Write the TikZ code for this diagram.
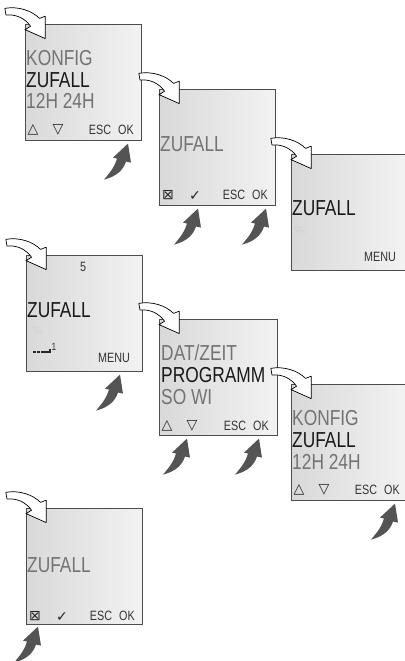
\documentclass[tikz,border=0pt]{standalone}
\usepackage{fontspec}
\setmainfont{Liberation Sans}
\newfontfamily\lcdfont[FakeStretch=0.8]{Liberation Sans}
\newfontfamily\symfont{DejaVu Sans}
\usetikzlibrary{calc, positioning}

\begin{document}
\begin{tikzpicture}[
    x=0.03cm, y=-0.03cm,
    screen/.style={
        draw=black!70,
        line width=0.5pt,
        left color=black!15,
        right color=black!5,
        minimum width=3.48cm,
        minimum height=3.48cm,
        anchor=north west,
        inner sep=0pt
    },
    big/.style={
        font=\lcdfont\fontsize{18.5}{19}\selectfont,
        inner sep=0pt,
        text depth=0pt,
        anchor=west
    },
    dim/.style={big, text=black!55},
    sel/.style={big, text=black!90},
    key/.style={
        font=\lcdfont\fontsize{11.5}{12}\selectfont,
        inner sep=0pt,
        text depth=0pt,
        text=black!80
    },
    sym/.style={
        font=\symfont\fontsize{12}{13}\selectfont,
        inner sep=0pt,
        text=black!85
    },
    enterarrow/.pic={
        \draw[fill=white, line width=0.6pt, line join=round, scale=1.12]
            (-18,-14) .. controls (-6,-16) and (6,-12) .. (13,-5)
            -- (18,-7) -- (18,13) -- (0,5) -- (5,2)
            .. controls (0,-5) and (-8,-9) .. (-17,-8) -- cycle;
    },
    pressarrow/.pic={
        \fill[black!67]
            (0,0) -- (3,19) -- (-2,18)
            .. controls (-5,27) and (-12,33) .. (-24,36)
            .. controls (-17,28) and (-13,22) .. (-11,15)
            -- (-15,14) -- cycle;
    }
]
\useasboundingbox (0,0) rectangle (405,661);

% screen 1
\node[screen] (s1) at (25,24) {};
\node[dim] (s1a) at ([shift={(1,34)}]s1.north west) {KONFIG};
\node[sel] (s1b) at ([shift={(1,56)}]s1.north west) {ZUFALL};
\node[dim] (s1c) at ([shift={(1,77)}]s1.north west) {12H 24H};
\node[sym] (s1up) at ([shift={(8,106)}]s1.north west) {△};
\node[sym] (s1dn) at ([shift={(33,106)}]s1.north west) {▽};
\node[key] (s1esc) at ([shift={(75,106)}]s1.north west) {ESC};
\node[key] (s1ok) at ([shift={(101,106)}]s1.north west) {OK};

% screen 2
\node[screen] (s2) at (159,89) {};
\node[dim] (s2a) at ([shift={(1,55)}]s2.north west) {ZUFALL};
\node[sym] (s2box) at ([shift={(9,106)}]s2.north west) {⊠};
\node[sym] (s2chk) at ([shift={(36,107)}]s2.north west) {✓};
\node[key] (s2esc) at ([shift={(75,106)}]s2.north west) {ESC};
\node[key] (s2ok) at ([shift={(101,106)}]s2.north west) {OK};

% screen 3
\node[screen, minimum width=3.42cm] (s3) at (291,154) {};
\node[sel] (s3a) at ([shift={(1,54)}]s3.north west) {ZUFALL};
\node[key] (s3menu) at ([shift={(89,103)}]s3.north west) {MENU};
\foreach \d in {0,3,6}
    \draw[black!30, densely dotted, line width=0.4pt]
        ([shift={(3+\d,72)}]s3.north west) -- ++(5,8);

% screen 4
\node[screen] (s4) at (26,255) {};
\node[key] (s4num) at ([shift={(57,12)}]s4.north west) {5};
\node[sel] (s4a) at ([shift={(1,55)}]s4.north west) {ZUFALL};
\node[key] (s4menu) at ([shift={(88,103)}]s4.north west) {MENU};
\foreach \d in {0,3,6}
    \draw[black!30, densely dotted, line width=0.4pt]
        ([shift={(6+\d,71)}]s4.north west) -- ++(5,8);
\draw[black!85, line width=1.1pt] ([shift={(7,97)}]s4.north west) -- ++(2.5,0);
\draw[black!85, line width=1.1pt] ([shift={(11,97)}]s4.north west) -- ++(2.5,0);
\draw[black!85, line width=1.1pt] ([shift={(15,97)}]s4.north west) -- ++(9,0) -- ++(0,-3.5);
\node[key, font=\lcdfont\fontsize{9}{10}\selectfont] (s4one) at ([shift={(28,92)}]s4.north west) {1};

% screen 5
\node[screen, minimum width=3.54cm] (s5) at (159,319) {};
\node[dim] (s5a) at ([shift={(2,34)}]s5.north west) {DAT/ZEIT};
\node[sel] (s5b) at ([shift={(2,56)}]s5.north west) {PROGRAMM};
\node[dim] (s5c) at ([shift={(2,78)}]s5.north west) {SO WI};
\node[sym] (s5up) at ([shift={(8,107)}]s5.north west) {△};
\node[sym] (s5dn) at ([shift={(33,107)}]s5.north west) {▽};
\node[key] (s5esc) at ([shift={(76,107)}]s5.north west) {ESC};
\node[key] (s5ok) at ([shift={(102,107)}]s5.north west) {OK};

% screen 6
\node[screen, minimum width=3.42cm] (s6) at (291,384) {};
\node[dim] (s6a) at ([shift={(1,34)}]s6.north west) {KONFIG};
\node[sel] (s6b) at ([shift={(1,56)}]s6.north west) {ZUFALL};
\node[dim] (s6c) at ([shift={(1,78)}]s6.north west) {12H 24H};
\node[sym] (s6up) at ([shift={(8,106)}]s6.north west) {△};
\node[sym] (s6dn) at ([shift={(33,106)}]s6.north west) {▽};
\node[key] (s6esc) at ([shift={(75,106)}]s6.north west) {ESC};
\node[key] (s6ok) at ([shift={(101,106)}]s6.north west) {OK};

% screen 7
\node[screen] (s7) at (26,508) {};
\node[dim] (s7a) at ([shift={(1,57)}]s7.north west) {ZUFALL};
\node[sym] (s7box) at ([shift={(9,108)}]s7.north west) {⊠};
\node[sym] (s7chk) at ([shift={(36,109)}]s7.north west) {✓};
\node[key] (s7esc) at ([shift={(75,108)}]s7.north west) {ESC};
\node[key] (s7ok) at ([shift={(101,108)}]s7.north west) {OK};

% white arrows into each screen
\foreach \s in {s1,s2,s3,s4,s5,s6,s7}
    \pic at (\s.north west) {enterarrow};

% key presses
\pic at ($(s1ok |- s1.south)+(2,3)$) {pressarrow};
\pic at ($(s2chk |- s2.south)+(3,3)$) {pressarrow};
\pic at ($(s2ok |- s2.south)+(6,3)$) {pressarrow};
\pic at ($(s4menu |- s4.south)+(6,3)$) {pressarrow};
\pic at ($(s5dn |- s5.south)+(-5,3)$) {pressarrow};
\pic at ($(s5ok |- s5.south)+(-2,3)$) {pressarrow};
\pic at ($(s6ok |- s6.south)+(3,3)$) {pressarrow};
\pic at ($(s7box |- s7.south)+(3,2)$) {pressarrow};

\end{tikzpicture}
\end{document}
